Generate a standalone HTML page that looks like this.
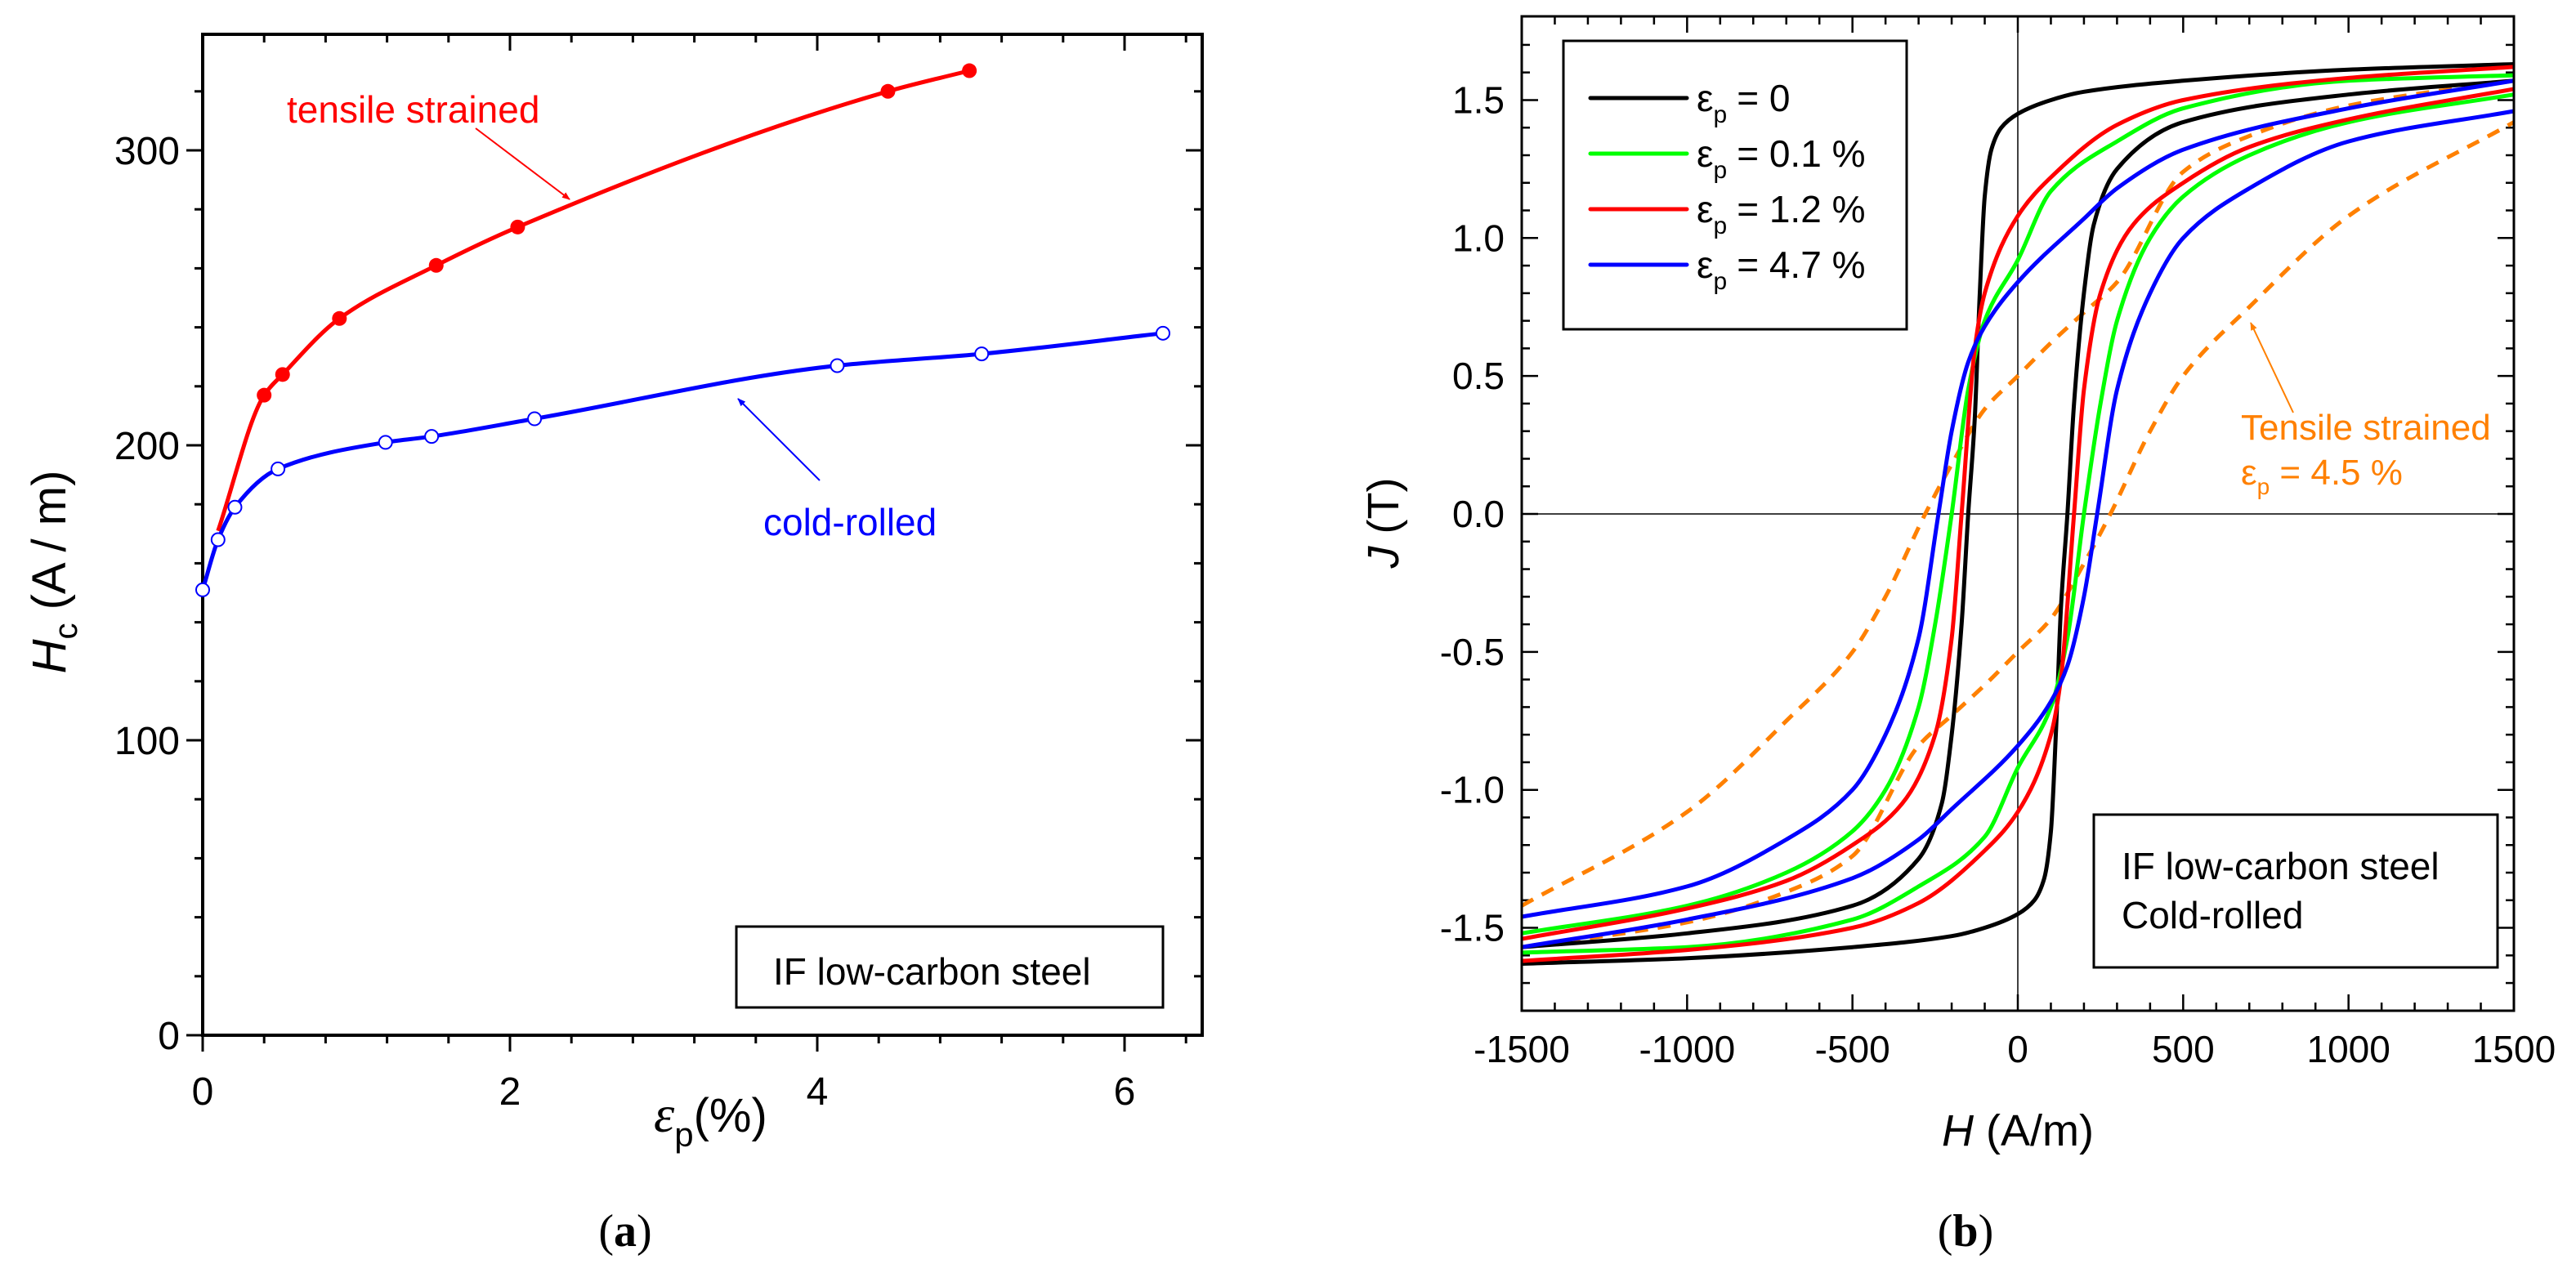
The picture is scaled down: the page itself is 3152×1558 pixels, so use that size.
<!DOCTYPE html>
<html><head><meta charset="utf-8">
<style>
html,body{margin:0;padding:0;background:#fff;}
svg{display:block;font-family:"Liberation Sans",sans-serif;}
</style></head>
<body>
<svg id="fig" width="3152" height="1558" viewBox="0 0 3152 1558" xmlns="http://www.w3.org/2000/svg">
<defs>
<marker id="arR" markerWidth="10" markerHeight="8" refX="9" refY="4" orient="auto" markerUnits="userSpaceOnUse"><path d="M0,0 L10,4 L0,8 Z" fill="#ff0000"/></marker>
<marker id="arB" markerWidth="10" markerHeight="8" refX="9" refY="4" orient="auto" markerUnits="userSpaceOnUse"><path d="M0,0 L10,4 L0,8 Z" fill="#0000ff"/></marker>
<marker id="arO" markerWidth="10" markerHeight="8" refX="9" refY="4" orient="auto" markerUnits="userSpaceOnUse"><path d="M0,0 L10,4 L0,8 Z" fill="#ff8000"/></marker>
</defs>
<rect x="0" y="0" width="3152" height="1558" fill="#fff"/>
<g id="A"></g>
<g id="B"></g>
</svg>
<script>
// ---------- Panel (a) data ----------
const tensileStrain = [0.10, 0.40, 0.52, 0.89, 1.52, 2.05, 4.46, 4.99];
const tensileHc     = [171, 217, 224, 243, 261, 274, 320, 327];
const tensileMarker = [false, true, true, true, true, true, true, true];
const coldStrain = [0, 0.10, 0.21, 0.49, 1.19, 1.49, 2.16, 4.13, 5.07, 6.25];
const coldHc     = [151, 168, 179, 192, 201, 203, 209, 227, 231, 238];
const aXTicks = [0, 2, 4, 6];
const aYTicks = [0, 100, 200, 300];

// ---------- Panel (b) data (ascending branches; descending = point reflection) ----------
const bH0   = [-1500,-1000,-500,-200,-100,0,50,80,100,115,130,150,170,200,230,300,500,1000,1500];
const bJ0   = [-1.63,-1.61,-1.57,-1.53,-1.50,-1.45,-1.40,-1.32,-1.15,-0.8,-0.35,0,0.4,0.8,1.05,1.25,1.42,1.52,1.57];
const bH01  = [-1500,-1000,-500,-300,-100,0,100,150,200,250,300,400,500,700,1000,1500];
const bJ01  = [-1.59,-1.57,-1.47,-1.35,-1.17,-0.92,-0.7,-0.45,0,0.4,0.7,1.0,1.15,1.3,1.42,1.52];
const bH12  = [-1500,-1000,-500,-300,-100,0,100,130,170,200,250,350,500,700,1000,1500];
const bJ12  = [-1.62,-1.58,-1.50,-1.41,-1.22,-1.08,-0.8,-0.6,0,0.45,0.8,1.05,1.2,1.33,1.43,1.54];
const bH47  = [-1500,-1000,-500,-300,-200,0,100,150,200,240,300,400,500,700,1000,1500];
const bJ47  = [-1.57,-1.47,-1.32,-1.18,-1.07,-0.84,-0.68,-0.55,-0.3,0,0.45,0.8,1.0,1.18,1.35,1.46];
const bH45t = [-1500,-1000,-700,-500,-300,-200,-100,0,100,200,280,400,500,700,1000,1500];
const bJ45t = [-1.57,-1.48,-1.37,-1.24,-0.84,-0.73,-0.62,-0.5,-0.38,-0.18,0,0.3,0.5,0.75,1.08,1.42];
const bXTicks = [-1500,-1000,-500,0,500,1000,1500];
const bYTicks = [-1.5,-1.0,-0.5,0.0,0.5,1.0,1.5];

const NS="http://www.w3.org/2000/svg";
function mk(parent, tag, attrs, text){
  const e=document.createElementNS(NS,tag);
  for(const k in attrs) e.setAttribute(k,attrs[k]);
  if(text!==undefined) e.textContent=text;
  parent.appendChild(e); return e;
}
// monotone cubic (Fritsch-Carlson) through points sorted by x
function spline(ptsIn){
  const pts=ptsIn.slice().sort((a,b)=>a[0]-b[0]);
  const n=pts.length, dx=[], s=[], m=[];
  for(let i=0;i<n-1;i++){dx[i]=pts[i+1][0]-pts[i][0]; s[i]=(pts[i+1][1]-pts[i][1])/dx[i];}
  m[0]=s[0]; m[n-1]=s[n-2];
  for(let i=1;i<n-1;i++){
    if(s[i-1]*s[i]<=0) m[i]=0;
    else { const w1=2*dx[i]+dx[i-1], w2=dx[i]+2*dx[i-1]; m[i]=(w1+w2)/(w1/s[i-1]+w2/s[i]); }
  }
  let d="M"+pts[0][0].toFixed(1)+","+pts[0][1].toFixed(1);
  for(let i=0;i<n-1;i++){
    const h=dx[i]/3;
    d+=" C"+(pts[i][0]+h).toFixed(1)+","+(pts[i][1]+m[i]*h).toFixed(1)+" "+(pts[i+1][0]-h).toFixed(1)+","+(pts[i+1][1]-m[i+1]*h).toFixed(1)+" "+pts[i+1][0].toFixed(1)+","+pts[i+1][1].toFixed(1);
  }
  return d;
}

// ================= Panel A =================
(function(){
const A=document.getElementById('A');
const aL=248,aR=1471,aT=42,aB=1267;
const ax=v=>aL+v*188;
const ay=v=>aB-v*3.61;
for(let i=0;i<=16;i++){
  const v=i*0.4;
  const major = i%5===0;
  const len = major?20:10;
  const x=ax(v);
  let t=mk(A,'line',{x1:x,y1:aB,x2:x,y2:aB+len,stroke:'#000','stroke-width':3});
   
  t=mk(A,'line',{x1:x,y1:aT,x2:x,y2:aT+len,stroke:'#000','stroke-width':3});
   
}
for(let v=0; v<=330.1; v+=20){
  const major = v%100===0;
  const len = major?20:10;
  const y=ay(v);
  let t=mk(A,'line',{x1:aL-len,y1:y,x2:aL,y2:y,stroke:'#000','stroke-width':3});
   
  t=mk(A,'line',{x1:aR-len,y1:y,x2:aR,y2:y,stroke:'#000','stroke-width':3});
   
}
let fr=mk(A,'rect',{x:aL,y:aT,width:aR-aL,height:aB-aT,fill:'none',stroke:'#000','stroke-width':4});
 
aXTicks.forEach(v=>{
  const t=mk(A,'text',{x:ax(v),y:1352,'font-size':48,'text-anchor':'middle'},String(v));
   
});
aYTicks.forEach(v=>{
  const t=mk(A,'text',{x:220,y:ay(v)+17,'font-size':48,'text-anchor':'end'},String(v));
   
});
let p=mk(A,'path',{d:spline(tensileStrain.map((s,i)=>[ax(s),ay(tensileHc[i])])),fill:'none',stroke:'#ff0000','stroke-width':5});
 
tensileStrain.forEach((s,i)=>{ if(!tensileMarker[i]) return;
  const c=mk(A,'circle',{cx:ax(s),cy:ay(tensileHc[i]),r:9,fill:'#ff0000'});
   
});
p=mk(A,'path',{d:spline(coldStrain.map((s,i)=>[ax(s),ay(coldHc[i])])),fill:'none',stroke:'#0000ff','stroke-width':5});
 
coldStrain.forEach((s,i)=>{
  const c=mk(A,'circle',{cx:ax(s),cy:ay(coldHc[i]),r:8,fill:'#fff',stroke:'#0000ff','stroke-width':2});
   
});
let e;
e=mk(A,'text',{x:351,y:150,'font-size':46,fill:'#ff0000'},'tensile strained');
 
e=mk(A,'line',{x1:582,y1:157,x2:697,y2:244,stroke:'#ff0000','stroke-width':2,'marker-end':'url(#arR)'});
 
e=mk(A,'text',{x:934,y:655,'font-size':46,fill:'#0000ff'},'cold-rolled');
 
e=mk(A,'line',{x1:1003,y1:588,x2:903,y2:488,stroke:'#0000ff','stroke-width':2,'marker-end':'url(#arB)'});
 
e=mk(A,'rect',{x:901,y:1134,width:522,height:99,fill:'#fff',stroke:'#000','stroke-width':3});
 
e=mk(A,'text',{x:946,y:1205,'font-size':46},'IF low-carbon steel');
 
e=mk(A,'text',{x:0,y:0,'font-size':58,'text-anchor':'middle',transform:'translate(80,700) rotate(-90)'});
e.innerHTML='<tspan font-style="italic">H</tspan><tspan font-size="40" dy="14">c</tspan><tspan dy="-14"> (A / m)</tspan>';
 
e=mk(A,'text',{x:800,y:1385,'font-size':58});
e.innerHTML='<tspan font-style="italic" font-family="Liberation Serif" font-size="64">ε</tspan><tspan font-size="42" dy="18">p</tspan><tspan dy="-18">(%)</tspan>';
 
e=mk(A,'text',{x:765,y:1525,'font-size':56,'font-family':'Liberation Serif','text-anchor':'middle'});
e.innerHTML='(<tspan font-weight="bold">a</tspan>)';
 
})();

// ================= Panel B =================
(function(){
const B=document.getElementById('B');
const bL=1862,bR=3076,bT=20,bBt=1237;
const bx=v=>2469+v*(607/1500);
const by=v=>629-v*337.7;
for(let v=-1500; v<=1500; v+=100){
  const major=v%500===0, len=major?20:10, x=bx(v);
  let t=mk(B,'line',{x1:x,y1:bBt,x2:x,y2:bBt-len,stroke:'#000','stroke-width':2.5});
   
  t=mk(B,'line',{x1:x,y1:bT,x2:x,y2:bT+len,stroke:'#000','stroke-width':2.5});
   
}
for(let i=-17;i<=17;i++){
  const v=i/10, major=i%5===0, len=major?20:10, y=by(v);
  let t=mk(B,'line',{x1:bL,y1:y,x2:bL+len,y2:y,stroke:'#000','stroke-width':2.5});
   
  t=mk(B,'line',{x1:bR-len,y1:y,x2:bR,y2:y,stroke:'#000','stroke-width':2.5});
   
}
let z=mk(B,'line',{x1:bL,y1:by(0),x2:bR,y2:by(0),stroke:'#000','stroke-width':1.5});
 
z=mk(B,'line',{x1:bx(0),y1:bT,x2:bx(0),y2:bBt,stroke:'#000','stroke-width':1.5});
 
bXTicks.forEach(v=>{
  const t=mk(B,'text',{x:bx(v),y:1300,'font-size':46,'text-anchor':'middle'},String(v));
   
});
bYTicks.forEach(v=>{
  const t=mk(B,'text',{x:1841,y:by(v)+16,'font-size':46,'text-anchor':'end'},v.toFixed(1));
   
});
const loops=[
  [bH45t,bJ45t,'#ff8000','loop-tensile-4-5',true],
  [bH0,bJ0,'#000000','loop-0',false],
  [bH01,bJ01,'#00ff00','loop-0-1',false],
  [bH12,bJ12,'#ff0000','loop-1-2',false],
  [bH47,bJ47,'#0000ff','loop-4-7',false]
];
loops.forEach(([H,J,col,name,dash])=>{
  const asc=H.map((h,i)=>[bx(h),by(J[i])]);
  const desc=H.map((h,i)=>[bx(-h),by(-J[i])]);
  const at={fill:'none',stroke:col,'stroke-width':5};
  if(dash) at['stroke-dasharray']='16 12';
  let p=mk(B,'path',Object.assign({d:spline(asc)},at));
   
  p=mk(B,'path',Object.assign({d:spline(desc)},at));
   
});
let f=mk(B,'rect',{x:bL,y:bT,width:bR-bL,height:bBt-bT,fill:'none',stroke:'#000','stroke-width':3});
 
let lg=mk(B,'rect',{x:1913,y:50,width:420,height:353,fill:'#fff',stroke:'#000','stroke-width':3});
 
const legCols=['#000000','#00ff00','#ff0000','#0000ff'];
const legTxt=['= 0','= 0.1 %','= 1.2 %','= 4.7 %'];
legCols.forEach((c,i)=>{
  const y=120+i*68;
  let l=mk(B,'line',{x1:1946,y1:y,x2:2064,y2:y,stroke:c,'stroke-width':5,'stroke-linecap':'round'});
   
  let t=mk(B,'text',{x:2076,y:y+16,'font-size':46});
  t.innerHTML='ε<tspan font-size="30" dy="14">p</tspan><tspan dy="-14" dx="12">'+legTxt[i]+'</tspan>';
   
});
let nb=mk(B,'rect',{x:2562,y:997,width:494,height:187,fill:'#fff',stroke:'#000','stroke-width':3});
 
let t=mk(B,'text',{x:2596,y:1076,'font-size':46},'IF low-carbon steel');
 
t=mk(B,'text',{x:2596,y:1136,'font-size':46},'Cold-rolled');
 
t=mk(B,'text',{x:2742,y:538,'font-size':44,fill:'#ff8000'},'Tensile strained');
 
t=mk(B,'text',{x:2742,y:593,'font-size':44,fill:'#ff8000'});
t.innerHTML='ε<tspan font-size="28" dy="12">p</tspan><tspan dy="-12"> = 4.5 %</tspan>';
 
let ar=mk(B,'line',{x1:2806,y1:505,x2:2754,y2:395,stroke:'#ff8000','stroke-width':2,'marker-end':'url(#arO)'});
 
t=mk(B,'text',{x:0,y:0,'font-size':54,'text-anchor':'middle',transform:'translate(1711,640) rotate(-90)'});
t.innerHTML='<tspan font-style="italic">J</tspan> (T)';
 
t=mk(B,'text',{x:2469,y:1402,'font-size':54,'text-anchor':'middle'});
t.innerHTML='<tspan font-style="italic">H</tspan> (A/m)';
 
t=mk(B,'text',{x:2405,y:1525,'font-size':56,'font-family':'Liberation Serif','text-anchor':'middle'});
t.innerHTML='(<tspan font-weight="bold">b</tspan>)';
 
})();
</script>
</body></html>
